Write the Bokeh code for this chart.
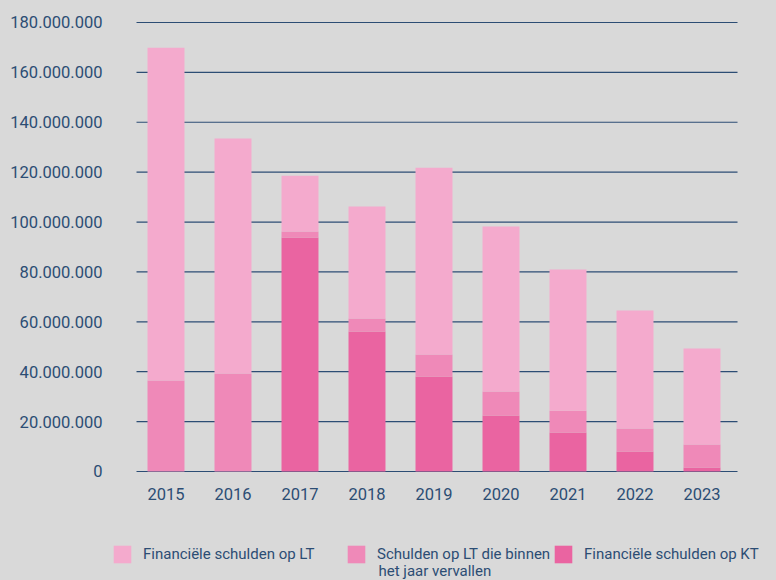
from bokeh.plotting import figure
from bokeh.models import FactorRange, Range1d, FixedTicker, Legend, LegendItem, ColumnDataSource, Label
from bokeh.embed import file_html
from bokeh.resources import INLINE

years = ["2015", "2016", "2017", "2018", "2019", "2020", "2021", "2022", "2023"]
fin_kt = [0, 0, 93_800_000, 56_100_000, 38_100_000, 22_400_000, 15_600_000, 8_000_000, 1_600_000]
lt_binnen = [36_500_000, 39_300_000, 2_400_000, 5_200_000, 8_800_000, 9_700_000, 8_800_000, 9_200_000, 9_200_000]
fin_lt = [133_400_000, 94_200_000, 22_400_000, 44_900_000, 74_900_000, 66_100_000, 56_600_000, 47_300_000, 38_500_000]

series_labels = ["Financiële schulden op LT", "Schulden op LT die binnen", "Financiële schulden op KT"]
series_label_line2 = "het jaar vervallen"
y_ticks = [0, 20_000_000, 40_000_000, 60_000_000, 80_000_000, 100_000_000, 120_000_000, 140_000_000, 160_000_000, 180_000_000]
y_tick_labels = ["0", "20.000.000", "40.000.000", "60.000.000", "80.000.000", "100.000.000",
                 "120.000.000", "140.000.000", "160.000.000", "180.000.000"]

BG = "#d9d9d9"
NAVY = "#2c4d74"
C_LT = "#f4aacd"
C_BIN = "#ef89b8"
C_KT = "#ea64a1"
FONT = "Roboto"

src = ColumnDataSource(dict(year=years, kt=fin_kt, binnen=lt_binnen, lt=fin_lt))
grid_src = ColumnDataSource(dict(tick=y_ticks))

# frame spans the whole lower strip so the legend is not clipped
p = figure(x_range=FactorRange(*years, range_padding=30 / 67, range_padding_units="absolute"),
           y_range=Range1d(-43_700_000, 182_000_000),
           width=776, height=580, output_backend="svg", toolbar_location=None,
           background_fill_color=BG, border_fill_color=BG, outline_line_color=None,
           min_border_left=102, min_border_right=11, min_border_top=17, min_border_bottom=0)

# horizontal grid lines at the tick values, limited to the plotting area of the original
p.segment(x0=0.06, x1=9.03, y0="tick", y1="tick", source=grid_src, line_color=NAVY, line_width=1.2)

rs = p.vbar_stack(["kt", "binnen", "lt"], x="year", width=0.552, source=src,
                  fill_color=[C_KT, C_BIN, C_LT], line_color=None)

p.yaxis.ticker = FixedTicker(ticks=y_ticks)
p.yaxis.major_label_overrides = {t: l for t, l in zip(y_ticks, y_tick_labels)}
for ax in (p.xaxis[0], p.yaxis[0]):
    ax.major_tick_line_color = None
    ax.minor_tick_line_color = None
    ax.major_tick_out = 0
    ax.major_tick_in = 0
    ax.axis_line_color = None
    ax.major_label_text_font = FONT
    ax.major_label_text_font_size = "16.5px"
    ax.major_label_text_color = NAVY
p.xaxis.fixed_location = 0
p.yaxis.major_label_standoff = 0
p.xaxis.major_label_standoff = 17
p.xgrid.grid_line_color = None
p.ygrid.grid_line_color = None

positions = [(9, 15), (243, 15), (450, 15)]
for lbl, r, pos in zip(series_labels, [rs[2], rs[1], rs[0]], positions):
    lg = Legend(items=[LegendItem(label=lbl, renderers=[r])], location=pos,
                orientation="horizontal", glyph_width=22, glyph_height=22, label_standoff=10,
                label_text_font=FONT, label_text_font_size="15px", label_text_color=NAVY,
                background_fill_alpha=0, border_line_color=None, margin=0, padding=0)
    p.add_layout(lg)

p.add_layout(Label(x=276, y=10, x_units="screen", y_units="screen", text=series_label_line2,
                   text_font=FONT, text_font_size="15px", text_color=NAVY, text_baseline="middle"))

html = file_html(p, INLINE)
html = html.replace("</head>", "<style>body{background:#d9d9d9;}</style></head>")
open("out.html", "w").write(html)
